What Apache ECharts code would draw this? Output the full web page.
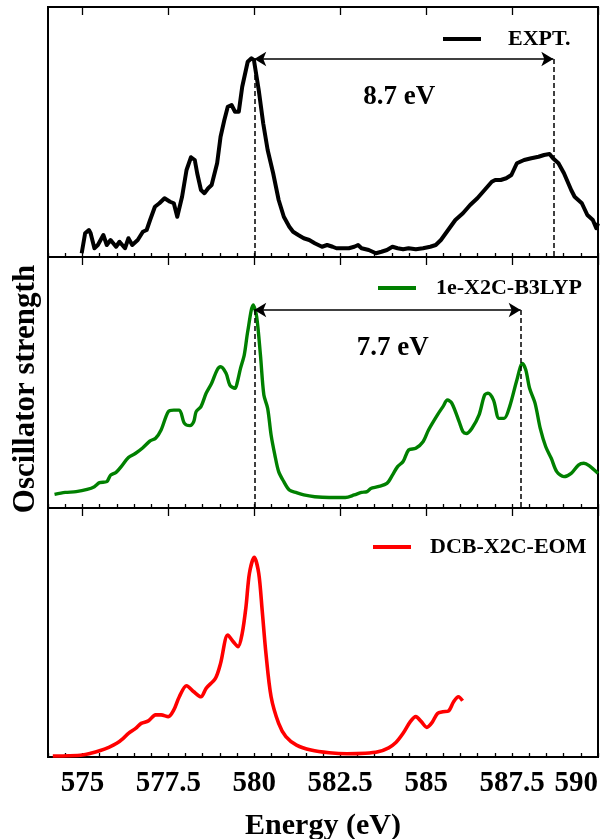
<!DOCTYPE html>
<html><head><meta charset="utf-8">
<script src="https://cdn.jsdelivr.net/npm/echarts@6/dist/echarts.min.js"></script>
<style>html,body{margin:0;padding:0;background:#fff}#c{width:605px;height:839px}</style>
</head><body><div id="c"></div>
<script>
// ---- data (energy in eV, relative intensity) ----
const expE = [574.98,575.08,575.19,575.24,575.35,575.45,575.61,575.71,575.82,575.98,576.08,576.24,576.34,576.45,576.61,576.76,576.87,576.97,577.11,577.24,577.39,577.55,577.66,577.76,577.9,578.03,578.16,578.27,578.34,578.45,578.55,578.66,578.76,578.92,579.02,579.13,579.23,579.34,579.44,579.55,579.65,579.81,579.92,579.99,580.13,580.26,580.39,580.55,580.71,580.86,581.02,581.13,581.28,581.44,581.6,581.76,581.97,582.12,582.28,582.39,582.6,582.75,582.91,583.02,583.12,583.33,583.54,583.7,583.86,584.02,584.17,584.33,584.49,584.7,584.91,585.12,585.28,585.43,585.64,585.85,586.07,586.28,586.49,586.7,586.91,587.01,587.17,587.33,587.48,587.64,587.85,588.06,588.27,588.43,588.59,588.69,588.85,589.01,589.22,589.32,589.53,589.69,589.85,589.95,590.0];
const expI = [1.5,9.5,10.8,9.5,3.5,4.8,8.8,4.8,6.8,4.1,6.1,3.5,7.5,4.8,6.8,10.1,10.8,14.8,20.1,21.5,23.5,22.1,21.5,16.1,24.1,34.8,39.9,38.8,33.5,26.8,25.5,27.5,28.8,37.5,48.1,54.8,60.1,60.8,58.1,58.1,68.1,78.1,79.5,78.8,66.8,53.5,42.8,33.5,22.8,16.1,12.1,10.1,8.8,7.5,6.8,5.5,4.1,4.8,4.1,3.5,3.5,3.5,4.1,4.8,3.5,2.8,1.5,2.1,2.8,4.1,3.5,3.1,3.5,3.1,3.5,4.1,4.8,6.8,10.8,14.8,17.5,20.8,23.5,26.8,30.1,30.8,30.8,31.5,32.8,37.5,38.8,39.5,40.1,40.8,41.2,39.5,37.5,33.5,26.8,24.1,21.5,16.8,14.8,11.5,13.5];

const b3lypE = [574.19,574.5,574.82,575.14,575.35,575.5,575.71,575.82,575.98,576.13,576.34,576.55,576.76,576.97,577.13,577.29,577.5,577.66,577.82,577.97,578.13,578.24,578.31,578.45,578.6,578.76,578.92,579.02,579.18,579.29,579.44,579.5,579.6,579.71,579.81,579.97,580.07,580.18,580.28,580.39,580.49,580.6,580.71,580.86,581.02,581.23,581.44,581.76,582.18,582.65,582.91,583.12,583.28,583.39,583.6,583.86,584.02,584.17,584.33,584.49,584.7,584.91,585.07,585.33,585.49,585.62,585.75,585.96,586.07,586.17,586.33,586.54,586.7,586.8,586.96,587.12,587.27,587.43,587.64,587.8,587.9,588.01,588.17,588.32,588.48,588.64,588.8,589.01,589.22,589.43,589.59,589.74,590.0];
const b3lypI = [5.4,6.2,6.5,7.4,8.5,10.1,10.5,13.1,14.2,16.5,20.1,21.8,24.0,26.7,27.8,31.1,38.4,39.0,39.0,33.7,32.8,34.4,38.4,40.4,45.7,49.7,55.0,56.3,53.7,49.0,47.7,49.7,55.6,61.0,70.3,80.9,76.2,61.0,45.0,39.7,29.1,21.1,14.5,10.5,7.2,6.1,5.2,4.5,4.2,4.2,5.2,6.2,6.5,7.8,8.5,9.8,13.1,16.5,18.5,23.1,23.8,26.4,31.1,37.1,40.4,43.0,41.7,34.4,30.4,29.7,31.7,37.1,45.0,45.7,43.0,35.7,35.7,40.4,51.0,57.6,55.0,47.7,41.7,31.7,24.4,19.8,14.5,12.5,13.8,17.1,17.8,16.9,13.8];

const eomE = [574.14,574.61,575.0,575.24,575.5,575.77,576.0,576.19,576.34,576.55,576.71,576.92,577.13,577.29,577.5,577.66,577.82,578.03,578.24,578.45,578.6,578.87,579.02,579.23,579.39,579.53,579.65,579.76,579.86,580.0,580.13,580.23,580.34,580.49,580.71,580.92,581.23,581.65,582.18,582.7,583.23,583.6,583.91,584.12,584.33,584.54,584.7,584.86,585.02,585.17,585.33,585.49,585.65,585.8,585.94,586.06];
const eomI = [0.4,0.5,0.8,1.5,2.5,3.9,5.5,7.5,9.5,11.5,13.5,14.5,16.9,16.9,16.2,18.9,24.2,28.6,26.2,24.2,27.6,31.6,37.6,49.0,46.3,44.3,49.7,60.4,73.8,80.2,73.8,59.0,41.6,24.2,13.5,8.2,4.8,2.8,1.7,1.3,1.5,2.1,3.7,5.8,9.5,14.2,16.2,14.2,11.9,13.8,17.5,18.2,18.5,22.2,24.2,22.6];

const xTickLabels = [575, 577.5, 580, 582.5, 585, 587.5, 590];
const seriesNames = ['EXPT.', '1e-X2C-B3LYP', 'DCB-X2C-EOM'];
// annotation values: [leftPeakE, rightPeakE, arrowLevel, labelE, labelLevel, text]
const exptGap = [580.0, 588.7, 79.2, 584.22, 64.0, '8.7 eV'];
const b3lypGap = [580.0, 587.75, 78.9, 584.03, 63.7, '7.7 eV'];

// ---- chart ----
const FONT = '"Liberation Serif","Times New Roman",serif';
const zip = (a, b) => a.map((v, i) => [v, b[i]]);
const minorTicks = [];
for (let v = 574; v <= 590.0001; v += 0.5) minorTicks.push(+v.toFixed(1));

const grids = [
  {left: 48, right: 7, top: 7, height: 250},
  {left: 48, right: 7, top: 257, height: 251},
  {left: 48, right: 7, top: 508, height: 249}
].map(g => Object.assign(g, {show: true, borderColor: '#000', borderWidth: 2, backgroundColor: 'transparent',
  containLabel: false, outerBoundsMode: 'none'}));

const xAxes = [];
[0, 1, 2].forEach(g => {
  xAxes.push({
    type: 'value', gridIndex: g, min: 574, max: 590, interval: 0.5,
    axisLine: {show: false}, splitLine: {show: false},
    axisTick: {show: true, inside: true, length: 4, customValues: minorTicks, lineStyle: {color: '#000', width: 1.3}},
    axisLabel: g === 2 ? {
      show: true, customValues: xTickLabels, margin: 12, color: '#000',
      fontFamily: FONT, fontWeight: 'bold', fontSize: 29, alignMaxLabel: 'right',
      formatter: v => String(v)
    } : {show: false},
    name: g === 2 ? 'Energy (eV)' : '', nameLocation: 'middle', nameGap: 54,
    nameTextStyle: {fontFamily: FONT, fontWeight: 'bold', fontSize: 30, color: '#000'}
  });
  xAxes.push({
    type: 'value', gridIndex: g, min: 574, max: 590, interval: 0.5,
    axisLine: {show: false}, splitLine: {show: false}, axisLabel: {show: false},
    axisTick: {show: true, inside: true, length: 8, customValues: xTickLabels, lineStyle: {color: '#000', width: 1.3}}
  });
});

const yAxes = [0, 1, 2].map(g => ({
  type: 'value', gridIndex: g, min: 0, max: 100,
  axisLine: {show: false}, axisTick: {show: false}, axisLabel: {show: false}, splitLine: {show: false}
}));

function gapMarks(a) {
  const dash = {type: [5, 3], color: '#000', width: 1.5};
  return {
    markLine: {
      silent: true, animation: false, symbolSize: [11, 12], label: {show: false},
      lineStyle: {color: '#000', width: 1.5, type: 'solid'},
      data: [
        [{coord: [a[0], a[2]], symbol: 'arrow'}, {coord: [a[1], a[2]], symbol: 'arrow'}],
        [{coord: [a[0], a[2]], symbol: 'none', lineStyle: dash}, {coord: [a[0], 0], symbol: 'none'}],
        [{coord: [a[1], a[2]], symbol: 'none', lineStyle: dash}, {coord: [a[1], 0], symbol: 'none'}]
      ]
    },
    markPoint: {
      silent: true, animation: false, symbol: 'circle', symbolSize: 0,
      label: {show: true, position: 'inside', formatter: a[5], color: '#000', fontFamily: FONT, fontWeight: 'bold', fontSize: 27},
      data: [{coord: [a[3], a[4]]}]
    }
  };
}

const series = [
  Object.assign({name: seriesNames[0], type: 'line', xAxisIndex: 0, yAxisIndex: 0, data: zip(expE, expI),
    showSymbol: false, symbol: 'none', lineStyle: {color: '#000', width: 4, join: 'round'}, itemStyle: {color: '#000'}}, gapMarks(exptGap)),
  Object.assign({name: seriesNames[1], type: 'line', xAxisIndex: 2, yAxisIndex: 1, data: zip(b3lypE, b3lypI), smooth: 0.3,
    showSymbol: false, symbol: 'none', lineStyle: {color: '#008000', width: 3.4}, itemStyle: {color: '#008000'}}, gapMarks(b3lypGap)),
  {name: seriesNames[2], type: 'line', xAxisIndex: 4, yAxisIndex: 2, data: zip(eomE, eomI), smooth: 0.3,
    showSymbol: false, symbol: 'none', lineStyle: {color: '#ff0000', width: 3.6}, itemStyle: {color: '#ff0000'}}
];

const legendBase = {icon: 'rect', itemWidth: 38, itemHeight: 4, selectedMode: false, orient: 'horizontal'};
const legendText = pad => ({fontFamily: FONT, fontWeight: 'bold', fontSize: 22, color: '#000', padding: [0, 0, 0, pad]});
const legends = [
  Object.assign({}, legendBase, {data: [seriesNames[0]], left: 438, top: 23, textStyle: legendText(22)}),
  Object.assign({}, legendBase, {data: [seriesNames[1]], left: 373, top: 272, textStyle: legendText(15)}),
  Object.assign({}, legendBase, {data: [seriesNames[2]], left: 368, top: 531, textStyle: legendText(14)})
];

const chart = echarts.init(document.getElementById('c'), null, {renderer: 'canvas'});
chart.setOption({
  animation: false,
  backgroundColor: '#fff',
  grid: grids, xAxis: xAxes, yAxis: yAxes, series: series, legend: legends,
  graphic: [{
    type: 'text', x: 26, y: 389, rotation: Math.PI / 2,
    style: {text: 'Oscillator strength', fontFamily: FONT, fontWeight: 'bold', fontSize: 31, fill: '#000',
      align: 'center', verticalAlign: 'middle'}
  }]
});
</script></body></html>
